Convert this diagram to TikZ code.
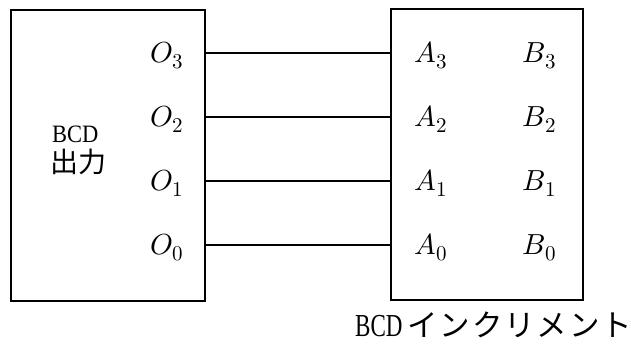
\documentclass[tikz,border=0pt]{standalone}
\usepackage{fontspec}
\usepackage{unicode-math}
\setmainfont{Liberation Serif}
\setmathfont{Latin Modern Math}
\newfontfamily\cjk{Noto Sans CJK JP}
\newfontfamily\cjkwide[LetterSpace=6]{Noto Sans CJK JP}
\newcommand\pinlab[2]{$#1$\kern0.5pt\raisebox{-6pt}{\fontsize{21}{24}\selectfont $#2$}}
\tikzset{
  blk/.style={draw, line width=2.6pt},
  wire/.style={line width=1.3pt},
  pin/.style={inner sep=0pt, font=\fontsize{29}{32}\selectfont},
  lbl/.style={inner sep=0pt, align=center},
}
\begin{document}
\begin{tikzpicture}[x=1pt,y=-1pt]
\useasboundingbox (0,0) rectangle (631,343);
\draw[blk] (11,10) rectangle (205,301);
\draw[blk] (391,9) rectangle (583,300);
\coordinate (L3) at (205,53);
\coordinate (L2) at (205,117);
\coordinate (L1) at (205,181);
\coordinate (L0) at (205,245);
\coordinate (R3) at (391,53);
\coordinate (R2) at (391,117);
\coordinate (R1) at (391,181);
\coordinate (R0) at (391,245);
\draw[wire] (L3) -- (R3);
\draw[wire] (L2) -- (R2);
\draw[wire] (L1) -- (R1);
\draw[wire] (L0) -- (R0);
\foreach \i/\y in {3/53,2/117,1/181,0/245}{
  \node[pin, anchor=base west] (o\i) at (150,\y+9) {\pinlab{O}{\i}};
  \node[pin, anchor=base west] (a\i) at (414,\y+9) {\pinlab{A}{\i}};
  \node[pin, anchor=base west] (b\i) at (522,\y+9) {\pinlab{B}{\i}};
}
\node[lbl, anchor=base west] (bcd) at (52,142) {\fontsize{25}{28}\selectfont\scalebox{0.9}[1]{BCD}};
\node[lbl, font=\fontsize{28}{30}\selectfont\cjk, anchor=base west] (out) at (50,172) {出力};
\node[lbl, anchor=base west] (inc) at (355,336) {\fontsize{32}{34}\selectfont\scalebox{0.72}[1]{BCD}\hspace{5pt}{\cjkwide\fontsize{30.5}{32}\selectfont インクリメント}};
\end{tikzpicture}
\end{document}
